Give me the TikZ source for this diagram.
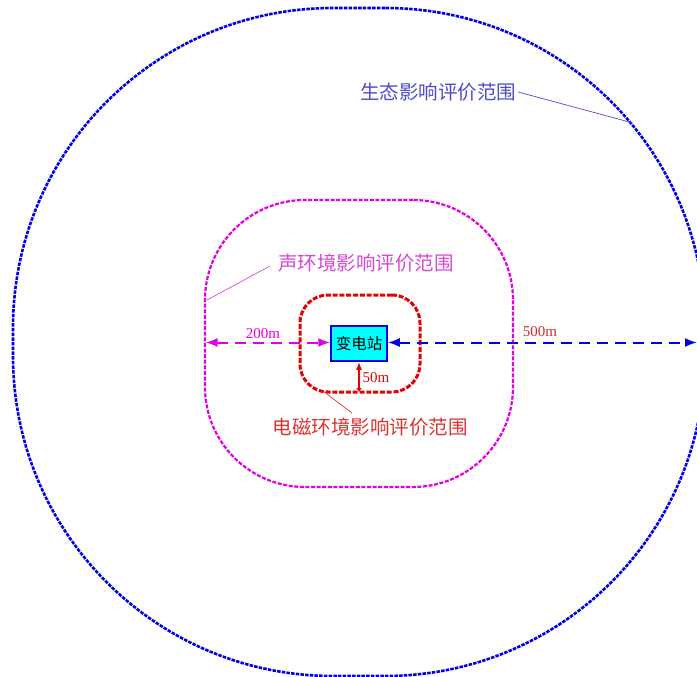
\documentclass[tikz,border=0pt]{standalone}
\usepackage{fontspec}
\setmainfont{Liberation Serif}
\newfontfamily\cjk{Noto Sans CJK SC}
\usetikzlibrary{arrows.meta}
\definecolor{ecoblue}{RGB}{0,0,225}
\definecolor{ecotext}{RGB}{75,75,205}
\definecolor{sndmag}{RGB}{225,0,225}
\definecolor{sndtext}{RGB}{215,70,215}
\definecolor{emfred}{RGB}{230,0,0}
\definecolor{emftext}{RGB}{220,50,50}
\definecolor{boxcyan}{RGB}{0,255,255}
\begin{document}
\begin{tikzpicture}[x=1pt,y=-1pt,
  zone/.style={draw, rectangle, inner sep=0pt, outer sep=0pt},
  ecozone/.style={zone, ecoblue, line width=2.6pt, dash pattern=on 3.5pt off 1.2pt, rounded corners=320pt, minimum width=692pt, minimum height=668pt},
  sndzone/.style={zone, sndmag, line width=2.2pt, dash pattern=on 4pt off 1.6pt, rounded corners=100pt, minimum width=308pt, minimum height=287pt},
  emfzone/.style={zone, emfred, line width=3pt, dash pattern=on 5pt off 1.8pt, rounded corners=28pt, minimum width=120pt, minimum height=97pt},
  stationbox/.style={draw=ecoblue, fill=boxcyan, line width=1.5pt, minimum width=56pt, minimum height=35pt, inner sep=0pt, font=\cjk\fontsize{15.5}{18}\selectfont},
  zonelabel/.style={font=\cjk\fontsize{19.5}{23}\selectfont, inner sep=2pt},
  distlabel/.style={font=\fontsize{15}{18}\selectfont, inner sep=1pt},
  leader/.style={line width=0.7pt},
  dimarrow/.style={line width=2pt, dash pattern=on 11pt off 7pt, {Latex[length=12pt,width=9pt]}-{Latex[length=12pt,width=9pt]}}
]
\useasboundingbox (0,0) rectangle (697,677);

\node[ecozone] (eco) at (359,342) {};
\node[sndzone] (snd) at (359,343.5) {};
\node[emfzone] (emf) at (360,343.5) {};
\node[stationbox] (st) at (359,343.5) {变电站};

% dimension arrows
\coordinate (sndleft) at (205.5,342.5);
\coordinate (ecoright) at (697,342.5);
\draw[dimarrow, sndmag] (sndleft) -- (st.west |- sndleft);
\draw[dimarrow, ecoblue] (st.east |- ecoright) -- (ecoright);
\draw[emfred, line width=1.6pt, {Latex[length=8pt,width=6pt]}-{Latex[length=4pt,width=6pt]}] (st.south) -- (st.south |- emf.south);

\node[distlabel, text=sndmag] (d200) at (263,334) {200m};
\node[distlabel, text=emftext!90!black] (d500) at (540,332) {500m};
\node[distlabel, text=emfred] (d50) at (376,378) {50m};

% zone labels with leaders
\node[zonelabel, text=ecotext] (ecolbl) at (438,92) {生态影响评价范围};
\coordinate (ecotip) at (633,123);
\draw[leader, ecotext] (ecolbl.east) -- (ecotip);

\node[zonelabel, text=sndtext] (sndlbl) at (366,263) {声环境影响评价范围};
\coordinate (sndtip) at (207,300);
\coordinate (sndstart) at (270,266);
\draw[leader, sndtext] (sndstart) -- (sndtip);

\node[zonelabel, text=emftext] (emflbl) at (370,427) {电磁环境影响评价范围};
\coordinate (emftip) at (323,391);
\coordinate (emfend) at (352,413);
\draw[leader, emftext] (emftip) -- (emfend);
\end{tikzpicture}
\end{document}
